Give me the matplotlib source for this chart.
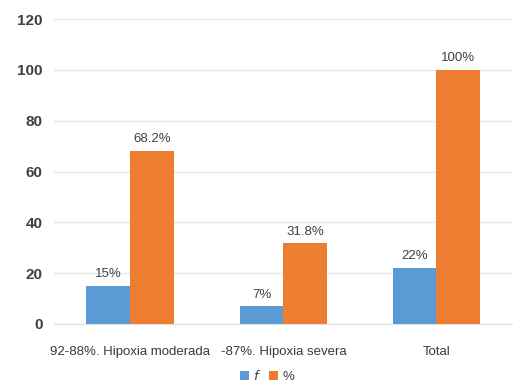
import numpy as np
import matplotlib.pyplot as plt

# data
categories = ["92-88%. Hipoxia moderada", "-87%. Hipoxia severa", "Total"]
freq = [15, 7, 22]
pct = [68.2, 31.8, 100]
freq_labels = ["15%", "7%", "22%"]
pct_labels = ["68.2%", "31.8%", "100%"]

plt.rcParams['font.family'] = ['Liberation Sans', 'DejaVu Sans']

fig = plt.figure(figsize=(5.13, 3.82), dpi=100)
ax = fig.add_axes([0.105, 0.152, 0.895, 0.798])

x = np.arange(len(categories))
w = 0.287
b1 = ax.bar(x - w / 2, freq, w, color="#5B9BD5", label="$f$", zorder=3)
b2 = ax.bar(x + w / 2, pct, w, color="#ED7D31", label="%", zorder=3)

for rect, lab in zip(b1, freq_labels):
    ax.text(rect.get_x() + rect.get_width() / 2, rect.get_height() + 2.2, lab,
            ha="center", va="bottom", fontsize=9.5, color="#404040")
for rect, lab in zip(b2, pct_labels):
    ax.text(rect.get_x() + rect.get_width() / 2, rect.get_height() + 2.2, lab,
            ha="center", va="bottom", fontsize=9.5, color="#404040")

ax.set_xlim(-0.5, 2.5)
ax.set_ylim(0, 120)
ax.set_yticks(range(0, 121, 20))
ax.set_xticks(x)
ax.set_xticklabels(categories)
ax.tick_params(axis="y", length=0, pad=8, labelsize=11, labelcolor="#404040")
ax.tick_params(axis="x", length=0, pad=16, labelsize=9.5, labelcolor="#3A3A3A")
for lab in ax.get_yticklabels():
    lab.set_fontweight("bold")

ax.grid(axis="y", color="#E6E6E6", linewidth=1, zorder=0)
for s in ["top", "right", "left"]:
    ax.spines[s].set_visible(False)
ax.spines["bottom"].set_color("#E0E0E0")

leg = fig.legend(handles=[b1, b2], labels=["$f$", "%"], loc="lower center",
                 bbox_to_anchor=(0.52, -0.035), ncol=2, frameon=False,
                 fontsize=9.5, handlelength=0.7, handleheight=0.7,
                 handletextpad=0.3, columnspacing=0.6)
for t in leg.get_texts():
    t.set_color("#404040")

fig.savefig("out.png", dpi=100)
